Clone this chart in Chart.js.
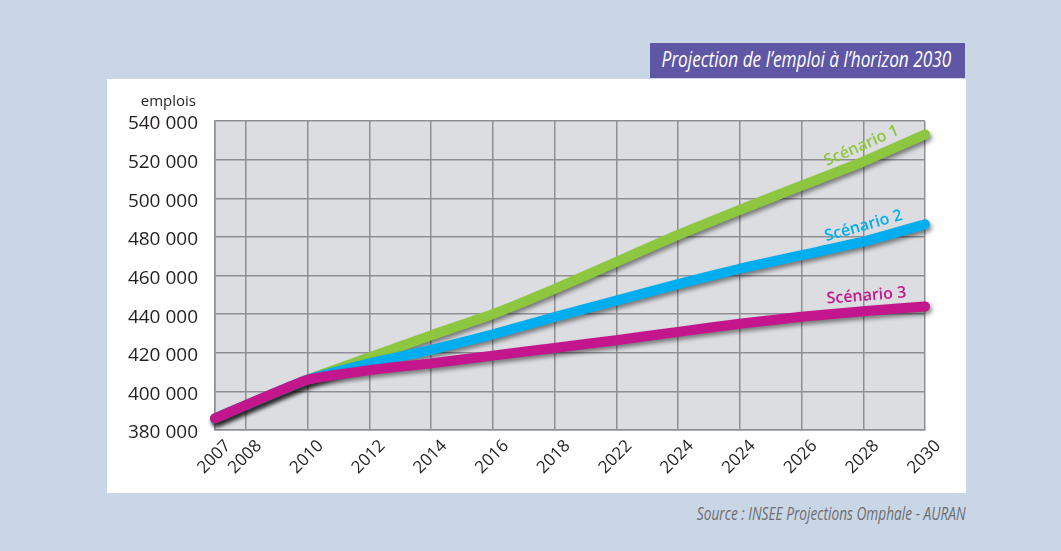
<!DOCTYPE html>
<html lang="fr">
<head>
<meta charset="utf-8">
<script src="https://cdn.jsdelivr.net/npm/chart.js@4.4.1/dist/chart.umd.min.js"></script>
<style>
  html, body { margin: 0; padding: 0; }
  body {
    width: 1061px; height: 551px; position: relative; overflow: hidden;
    background: #c9d6e6; font-family: "Open Sans", sans-serif;
  }
  #panel {
    position: absolute; left: 107px; top: 79px; width: 859px; height: 414px;
    background: #ffffff;
  }
  #title {
    position: absolute; left: 650px; top: 43px; width: 315px; height: 35px;
    background: #5f57a6;
  }
  #title span {
    position: absolute; right: 14px; top: 2px; white-space: nowrap;
    color: #ffffff; font-style: italic; font-size: 21px;
    transform: scaleX(0.82); transform-origin: right center;
  }
  #unit {
    position: absolute; right: 865px; top: 90px; font-size: 15px; color: #231f20;
  }
  #source {
    position: absolute; right: 95px; top: 501px; white-space: nowrap;
    color: #6d6e71; font-style: italic; font-size: 18px;
    transform: scaleX(0.76); transform-origin: right center;
  }
  canvas { position: absolute; left: 0; top: 0; }
</style>
</head>
<body>
<div id="title"><span>Projection de l’emploi à l’horizon 2030</span></div>
<div id="panel"><canvas id="chart" width="859" height="414"></canvas></div>
<div id="unit">emplois</div>
<div id="source">Source : INSEE Projections Omphale - AURAN</div>
<script>
// years of the projection and the three scenarios (jobs)
const years = [2007, 2010, 2012, 2014, 2016, 2018, 2020, 2022, 2024, 2026, 2028, 2030];
const scenario1 = [386000, 406000, 417500, 429000, 440000, 453000, 467000, 481000, 494000, 506500, 519000, 533000];
const scenario2 = [386000, 406000, 414500, 421500, 429500, 438500, 447000, 455500, 463500, 470500, 477500, 486500];
const scenario3 = [386000, 406000, 411000, 414500, 418500, 422500, 426500, 430800, 435000, 438600, 441500, 444000];

const seriesNames = ['Scénario 1', 'Scénario 2', 'Scénario 3'];
const seriesColors = ['#8dc63f', '#00aeef', '#c4168c'];

// x tick positions and the labels printed under them
const tickYears = [2007, 2008, 2010, 2012, 2014, 2016, 2018, 2020, 2022, 2024, 2026, 2028, 2030];
const tickLabels = ['2007', '2008', '2010', '2012', '2014', '2016', '2018', '2022', '2024', '2024', '2026', '2028', '2030'];

const gridColor = '#8e8f93';

function toPoints(values) {
  return values.map((v, i) => ({ x: years[i], y: v }));
}

const plotBackground = {
  id: 'plotBackground',
  beforeDraw(chart) {
    const { ctx, chartArea: a } = chart;
    ctx.save();
    ctx.fillStyle = '#dcdde0';
    ctx.fillRect(a.left, a.top, a.right - a.left, a.bottom - a.top);
    ctx.restore();
  }
};

// soft drop shadow under each line
const lineShadow = {
  id: 'lineShadow',
  beforeDatasetDraw(chart) {
    const ctx = chart.ctx;
    ctx.save();
    ctx.shadowColor = 'rgba(0, 0, 0, 0.45)';
    ctx.shadowBlur = 4;
    ctx.shadowOffsetX = 2;
    ctx.shadowOffsetY = 3;
  },
  afterDatasetDraw(chart) {
    chart.ctx.restore();
  }
};

// scenario names written along the end of each line
const seriesLabels = {
  id: 'seriesLabels',
  afterDatasetsDraw(chart) {
    const ctx = chart.ctx;
    chart.data.datasets.forEach((ds, i) => {
      const pts = chart.getDatasetMeta(i).data;
      const p0 = pts[pts.length - 2];
      const p1 = pts[pts.length - 1];
      const ang = Math.atan2(p1.y - p0.y, p1.x - p0.x);
      const t = 0.07;
      const cx = p0.x + (p1.x - p0.x) * t;
      const cy = p0.y + (p1.y - p0.y) * t;
      ctx.save();
      ctx.translate(cx, cy);
      ctx.rotate(ang);
      ctx.fillStyle = ds.borderColor;
      ctx.font = '600 16px "Open Sans"';
      ctx.textAlign = 'center';
      ctx.textBaseline = 'bottom';
      ctx.fillText(ds.label, 0, -7);
      ctx.restore();
    });
  }
};

const datasets = [scenario1, scenario2, scenario3].map((values, i) => ({
  label: seriesNames[i],
  data: toPoints(values),
  borderColor: seriesColors[i],
  borderWidth: 10,
  borderCapStyle: 'round',
  borderJoinStyle: 'round',
  pointRadius: 0,
  tension: 0.15,
  fill: false,
  clip: false,
  order: 3 - i
}));

new Chart(document.getElementById('chart'), {
  type: 'line',
  data: { datasets },
  options: {
    responsive: false,
    animation: false,
    events: [],
    layout: { padding: { left: 0, right: 41, top: 42, bottom: 0 } },
    plugins: { legend: { display: false }, tooltip: { enabled: false } },
    scales: {
      x: {
        type: 'linear',
        min: 2007,
        max: 2030,
        afterBuildTicks(scale) {
          scale.ticks = tickYears.map(v => ({ value: v }));
        },
        afterFit(scale) { scale.height = 63; },
        grid: { color: gridColor, lineWidth: 1.5, drawTicks: false },
        border: { color: gridColor, width: 1.5 },
        ticks: {
          autoSkip: false,
          minRotation: 45,
          maxRotation: 45,
          padding: 6,
          labelOffset: 13,
          color: '#231f20',
          font: { family: 'Open Sans', size: 17 },
          callback: (value, index) => tickLabels[index]
        }
      },
      y: {
        min: 380000,
        max: 540000,
        afterFit(scale) { scale.width = 108; },
        grid: { color: gridColor, lineWidth: 1.5, drawTicks: false },
        border: { color: gridColor, width: 1.5 },
        ticks: {
          stepSize: 20000,
          padding: 17,
          labelOffset: 3,
          color: '#231f20',
          font: { family: 'Open Sans', size: 19 },
          callback: v => String(v).replace(/\B(?=(\d{3})+$)/g, ' ')
        }
      }
    }
  },
  plugins: [plotBackground, lineShadow, seriesLabels]
});
</script>
</body>
</html>
